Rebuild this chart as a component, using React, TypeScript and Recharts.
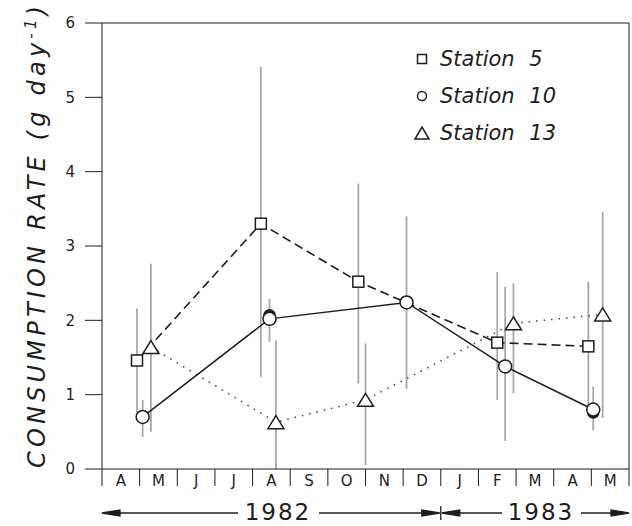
import React from 'react';
import { ComposedChart, Line, XAxis, YAxis, ErrorBar, ReferenceLine, Legend } from 'recharts';

// months from April 1982 to May 1983
const MONTHS = ['A', 'M', 'J', 'J', 'A', 'S', 'O', 'N', 'D', 'J', 'F', 'M', 'A', 'M'];
const Y_TICKS = [0, 1, 2, 3, 4, 5, 6];
const SERIES_NAMES = ['Station 5', 'Station 10', 'Station 13'];

// x = months since start of April 1982, errors = [below, above]
const S5_T = [0.93, 4.22, 6.81, 10.5, 12.92];
const S5_V = [1.46, 3.3, 2.52, 1.7, 1.65];
const S5_ERR = [[0.7, 0.7], [2.06, 2.11], [1.37, 1.32], [0.77, 0.95], [0.87, 0.87]];

const S10_T = [1.08, 4.45, 8.09, 10.71, 13.05];
const S10_V = [0.7, 2.02, 2.24, 1.38, 0.8];
const S10_ERR = [[0.27, 0.23], [0.31, 0.27], [1.16, 1.16], [1.0, 1.07], [0.28, 0.31]];
// filled points partly hidden behind the station 10 circles
const S10_DUP_T = [4.45, 13.05];
const S10_DUP_V = [2.07, 0.76];

const S13_T = [1.3, 4.62, 7.0, 10.93, 13.3];
const S13_V = [1.64, 0.63, 0.93, 1.96, 2.08];
const S13_ERR = [[1.14, 1.12], [0.63, 1.1], [0.88, 0.76], [0.94, 0.54], [1.39, 1.38]];

const pts = (t: number[], v: number[], e?: number[][]) =>
  t.map((x, i) => ({ x, y: v[i], e: e ? e[i] : undefined }));

const s5 = pts(S5_T, S5_V, S5_ERR);
const s10 = pts(S10_T, S10_V, S10_ERR);
const s10dup = pts(S10_DUP_T, S10_DUP_V);
const s13 = pts(S13_T, S13_V, S13_ERR);

const INK = '#1e1e1e';
const BAR = '#a8a8a8';
const FONT = 'DejaVu Sans, sans-serif';

const W = 632;
const H = 526;
const PL = 102;
const PR = 629;
const MONTH_W = (PR - PL) / MONTHS.length;
const monthX = (i: number) => PL + i * MONTH_W;

function Square({ cx, cy, s = 11 }: any) {
  return <rect x={cx - s / 2} y={cy - s / 2} width={s} height={s} fill="#fff" stroke={INK} strokeWidth={1.5} />;
}
function Circ({ cx, cy, r = 6.5, fill = '#fff' }: any) {
  return <circle cx={cx} cy={cy} r={r} fill={fill} stroke={INK} strokeWidth={1.5} />;
}
function Tri({ cx, cy, w = 16, h = 13 }: any) {
  const p = `${cx - w / 2},${cy + h / 2} ${cx + w / 2},${cy + h / 2} ${cx},${cy - h / 2}`;
  return <polygon points={p} fill="#fff" stroke={INK} strokeWidth={1.5} strokeLinejoin="miter" />;
}

// month letter sits in the middle of the box to the right of each separator tick
function MonthTick({ x, y, payload }: any) {
  const label = MONTHS[payload.value];
  if (!label) return null;
  return (
    <text x={x + MONTH_W / 2} y={y} textAnchor="middle" fontSize={15} fill={INK}>
      {label}
    </text>
  );
}

function LegendBox() {
  const syms = [
    <Square cx={10} cy={10} s={9} />,
    <Circ cx={10} cy={10} r={4.5} />,
    <Tri cx={10} cy={10} w={14} h={12} />,
  ];
  return (
    <div style={{ fontFamily: FONT }}>
      {SERIES_NAMES.map((n, i) => (
        <div key={n} style={{ display: 'flex', alignItems: 'center', height: 37 }}>
          <svg width={20} height={20} style={{ marginRight: 8 }}>
            {syms[i]}
          </svg>
          <span style={{ fontStyle: 'italic', fontSize: 21, color: INK, wordSpacing: 8 }}>{n}</span>
        </div>
      ))}
    </div>
  );
}

const errLine = (data: any[], key: string) => (
  <Line
    key={key}
    data={data}
    dataKey="y"
    stroke="none"
    dot={false}
    activeDot={false}
    legendType="none"
    isAnimationActive={false}
  >
    <ErrorBar dataKey="e" direction="y" width={0} stroke={BAR} strokeWidth={1.8} />
  </Line>
);

export default function App() {
  const split = monthX(9);
  const ay = 513;
  return (
    <div style={{ position: 'absolute', left: 0, top: 0, width: W, height: H, fontFamily: FONT }}>
      <ComposedChart width={W} height={H} margin={{ top: 23, right: W - PR, bottom: 27, left: 0 }}>
        <XAxis
          type="number"
          dataKey="x"
          domain={[0, MONTHS.length]}
          allowDataOverflow
          ticks={[...MONTHS.map((_, i) => i), MONTHS.length]}
          tick={<MonthTick />}
          tickSize={17}
          tickMargin={0}
          height={30}
          stroke={INK}
          interval={0}
        />
        <YAxis
          type="number"
          domain={[0, 6]}
          ticks={Y_TICKS}
          width={PL}
          tickSize={17}
          tickMargin={10}
          stroke={INK}
          tick={{ fill: INK, fontSize: 15 }}
          interval={0}
        />
        <ReferenceLine x={MONTHS.length} stroke={INK} strokeWidth={1} />
        <ReferenceLine y={6} stroke={INK} strokeWidth={1} />

        {errLine(s5, 'e5')}
        {errLine(s10, 'e10')}
        {errLine(s13, 'e13')}

        <Line
          data={s13}
          dataKey="y"
          name={SERIES_NAMES[2]}
          stroke="#444"
          strokeWidth={1.5}
          strokeDasharray="1.5 6"
          dot={(p: any) => <Tri key={`t${p.index}`} cx={p.cx} cy={p.cy} />}
          activeDot={false}
          isAnimationActive={false}
        />
        <Line
          data={s5}
          dataKey="y"
          name={SERIES_NAMES[0]}
          stroke={INK}
          strokeWidth={1.6}
          strokeDasharray="9 5"
          dot={(p: any) => <Square key={`s${p.index}`} cx={p.cx} cy={p.cy} />}
          activeDot={false}
          isAnimationActive={false}
        />
        <Line
          data={s10dup}
          dataKey="y"
          stroke="none"
          legendType="none"
          dot={(p: any) => <Circ key={`d${p.index}`} cx={p.cx} cy={p.cy} r={5.5} fill={INK} />}
          activeDot={false}
          isAnimationActive={false}
        />
        <Line
          data={s10}
          dataKey="y"
          name={SERIES_NAMES[1]}
          stroke={INK}
          strokeWidth={1.5}
          dot={(p: any) => <Circ key={`c${p.index}`} cx={p.cx} cy={p.cy} />}
          activeDot={false}
          isAnimationActive={false}
        />
        <Legend
          layout="vertical"
          align="center"
          verticalAlign="middle"
          content={() => <LegendBox />}
          wrapperStyle={{ left: 412, top: 40, width: 200, height: 111 }}
        />
      </ComposedChart>

      <svg width={W} height={H} style={{ position: 'absolute', left: 0, top: 0, pointerEvents: 'none' }}>
        <text
          transform="translate(45,237) rotate(-90)"
          textAnchor="middle"
          fontStyle="italic"
          fontSize={24}
          fill={INK}
          textLength={462}
          lengthAdjust="spacing"
        >
          CONSUMPTION RATE (g day<tspan dy={-9} fontSize={15}>-1</tspan>
          <tspan dy={9}>)</tspan>
        </text>

        <g stroke={INK} strokeWidth={1.3} fill={INK}>
          <line x1={PL + 10} y1={ay} x2={238} y2={ay} />
          <line x1={319} y1={ay} x2={split - 10} y2={ay} />
          <line x1={split + 10} y1={ay} x2={502} y2={ay} />
          <line x1={581} y1={ay} x2={PR - 10} y2={ay} />
          <line x1={split} y1={ay - 7} x2={split} y2={ay + 7} />
          <polygon points={`${PL},${ay} ${PL + 18},${ay - 3} ${PL + 18},${ay + 3}`} />
          <polygon points={`${split - 1},${ay} ${split - 19},${ay - 3} ${split - 19},${ay + 3}`} />
          <polygon points={`${split + 1},${ay} ${split + 19},${ay - 3} ${split + 19},${ay + 3}`} />
          <polygon points={`${PR},${ay} ${PR - 18},${ay - 3} ${PR - 18},${ay + 3}`} />
        </g>
        <text x={278} y={520} textAnchor="middle" fontSize={23} letterSpacing={2} fill={INK}>
          1982
        </text>
        <text x={541} y={520} textAnchor="middle" fontSize={23} letterSpacing={2} fill={INK}>
          1983
        </text>
      </svg>
    </div>
  );
}
